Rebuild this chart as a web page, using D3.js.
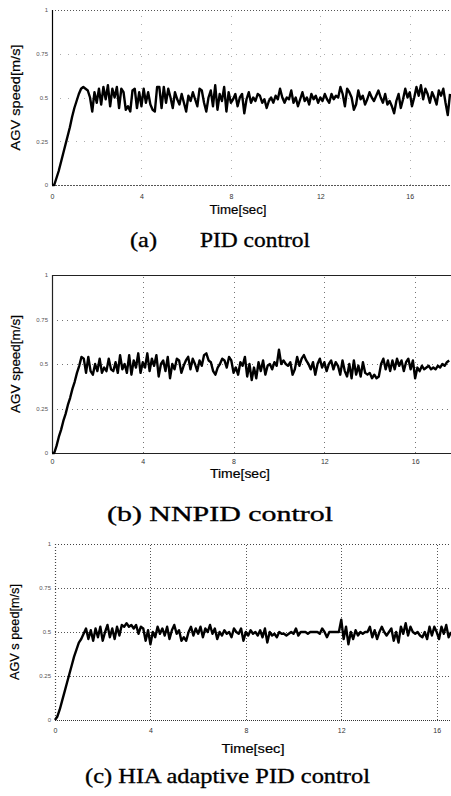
<!DOCTYPE html>
<html><head><meta charset="utf-8">
<script src="https://cdn.jsdelivr.net/npm/d3@7/dist/d3.min.js"></script>
<style>
html,body{margin:0;padding:0;background:#fff;}
svg{display:block;}
</style></head>
<body>
<script>
// ---------------- DATA ----------------
const sampleStep = 0.1; // seconds between samples
const xTickValues = [0, 4, 8, 12, 16];
const xTickLabels = ["0", "4", "8", "12", "16"];
const yTickValues = [0, 0.25, 0.5, 0.75, 1];
const yTickLabels = ["0", "0.25", "0.5", "0.75", "1"];
const yLabels = ["AGV speed[m/s]", "AGV speed[m/s]", "AGV s peed[m/s]"];
const xLabel = "Time[sec]";

const speedPID = [0,0,0.04,0.08,0.13,0.18,0.23,0.28,0.33,0.39,0.44,0.48,0.52,0.55,0.56,0.55,
0.54,0.50,0.42,0.53,0.47,0.55,0.46,0.56,0.49,0.57,0.45,0.55,0.50,0.56,0.44,0.55,0.53,0.43,0.45,0.42,0.54,0.55,0.44,0.53,
0.45,0.55,0.47,0.53,0.46,0.43,0.42,0.56,0.56,0.44,0.56,0.47,0.55,0.50,0.44,0.53,0.49,0.46,0.52,0.47,
0.42,0.51,0.48,0.53,0.49,0.45,0.55,0.54,0.47,0.42,0.50,0.54,0.45,0.57,0.43,0.52,0.48,0.56,0.42,0.53,
0.47,0.49,0.52,0.45,0.50,0.52,0.41,0.49,0.53,0.47,0.50,0.48,0.52,0.51,0.47,0.49,0.44,0.48,0.50,0.47,
0.51,0.49,0.55,0.50,0.47,0.50,0.49,0.54,0.47,0.50,0.45,0.49,0.53,0.48,0.50,0.46,0.52,0.49,0.51,0.47,
0.50,0.48,0.52,0.49,0.47,0.52,0.49,0.51,0.50,0.56,0.52,0.45,0.55,0.53,0.50,0.43,0.46,0.54,0.49,0.51,
0.46,0.49,0.53,0.50,0.48,0.51,0.54,0.50,0.47,0.52,0.46,0.48,0.45,0.41,0.48,0.52,0.44,0.49,0.55,0.50,
0.53,0.45,0.50,0.56,0.51,0.57,0.49,0.55,0.52,0.47,0.53,0.50,0.46,0.54,0.51,0.55,0.47,0.40,0.52];

const speedNNPID = [0,0,0.04,0.09,0.13,0.18,0.22,0.27,0.31,0.36,0.40,0.45,0.49,0.54,0.53,
0.45,0.54,0.46,0.44,0.50,0.46,0.53,0.45,0.48,0.46,0.53,0.47,0.46,0.51,0.45,0.55,0.47,0.50,0.45,0.55,0.44,0.52,0.48,0.56,0.45,
0.51,0.48,0.56,0.46,0.53,0.49,0.55,0.43,0.50,0.52,0.46,0.54,0.42,0.50,0.47,0.53,0.52,0.45,0.49,0.52,
0.54,0.47,0.53,0.50,0.46,0.52,0.49,0.55,0.56,0.52,0.51,0.46,0.44,0.48,0.50,0.53,0.52,0.48,0.54,0.52,
0.45,0.48,0.44,0.51,0.49,0.54,0.43,0.50,0.41,0.48,0.42,0.51,0.46,0.52,0.44,0.49,0.50,0.47,0.51,0.49,
0.58,0.50,0.52,0.50,0.49,0.51,0.44,0.47,0.54,0.49,0.53,0.55,0.52,0.50,0.47,0.51,0.44,0.50,0.53,0.48,
0.51,0.46,0.50,0.52,0.47,0.51,0.49,0.44,0.52,0.46,0.43,0.50,0.42,0.52,0.44,0.49,0.43,0.51,0.45,0.44,
0.45,0.42,0.44,0.42,0.43,0.50,0.53,0.47,0.52,0.46,0.52,0.47,0.53,0.49,0.52,0.46,0.51,0.53,0.47,0.52,
0.42,0.48,0.46,0.49,0.47,0.48,0.49,0.47,0.48,0.47,0.49,0.48,0.50,0.49,0.51,0.52,0.52];

const speedHIA = [0,0.02,0.06,0.11,0.16,0.21,0.26,0.31,0.36,0.40,0.44,0.46,0.49,0.52,
0.46,0.51,0.45,0.52,0.47,0.53,0.45,0.50,0.54,0.47,0.52,0.46,0.53,0.48,0.54,0.53,0.55,0.53,0.54,0.52,0.54,0.49,0.53,0.52,0.45,0.51,
0.43,0.50,0.47,0.53,0.49,0.52,0.48,0.53,0.46,0.51,0.54,0.49,0.51,0.45,0.47,0.45,0.50,0.53,0.48,0.52,
0.49,0.53,0.47,0.52,0.50,0.54,0.49,0.52,0.46,0.50,0.48,0.51,0.49,0.50,0.47,0.52,0.50,0.49,0.52,0.45,
0.50,0.48,0.51,0.49,0.50,0.48,0.51,0.47,0.52,0.44,0.50,0.48,0.49,0.47,0.50,0.49,0.49,0.48,0.49,0.50,
0.49,0.52,0.48,0.50,0.50,0.50,0.49,0.50,0.50,0.50,0.50,0.49,0.52,0.50,0.47,0.50,0.50,0.50,0.50,0.50,
0.57,0.46,0.53,0.43,0.50,0.46,0.51,0.48,0.50,0.49,0.50,0.50,0.53,0.47,0.51,0.46,0.50,0.53,0.50,0.48,
0.50,0.52,0.45,0.50,0.44,0.53,0.49,0.55,0.48,0.53,0.50,0.49,0.50,0.48,0.47,0.50,0.46,0.53,0.48,0.53,
0.50,0.46,0.53,0.49,0.54,0.47,0.50];

const seriesList = [speedPID, speedNNPID, speedHIA];

// ---------------- LAYOUT ----------------
const panels = [
  {left:52, right:450, top:10, bottom:185, xMax:17.8, tickY:198, xlabY:214, ylabX:16, ylabLen:106, xlabX:238, xlabLen:57,
   capY:247, capParts:[{t:"(a)",x:130,len:27},{t:"PID control",x:200,len:110}],
   grid:{col:"#999", dash:"1,7", op:0.8}, topStyle:{col:"#555",dash:"1,2"}, leftStyle:{col:"#000",dash:null}, bottomStyle:{col:"#555",dash:"2,1"}},
  {left:52, right:451, top:275, bottom:453, xMax:17.58, tickY:463, xlabY:478, ylabX:16, ylabLen:98, xlabX:240, xlabLen:60,
   capY:521, capParts:[{t:"(b) NNPID control",x:107,len:226}],
   grid:{col:"#666", dash:"1,4", op:0.9}, topStyle:{col:"#222",dash:null}, leftStyle:{col:"#222",dash:null}, bottomStyle:{col:"#222",dash:null}},
  {left:55, right:451, top:544, bottom:720, xMax:16.6, tickY:732, xlabY:753, ylabX:15, ylabLen:96, xlabX:253, xlabLen:63,
   capY:783, capParts:[{t:"(c) HIA adaptive PID control",x:85,len:285}],
   grid:{col:"#444", dash:"1,2", op:0.9}, topStyle:{col:"#444",dash:"1,2"}, leftStyle:{col:"#444",dash:"1,2"}, bottomStyle:{col:"#333",dash:"1,1"}}
];

const svg = d3.select("body").append("svg").attr("width",451).attr("height",796);

panels.forEach((p, i) => {
  const data = seriesList[i];
  const x = d3.scaleLinear().domain([0, p.xMax]).range([p.left, p.right]);
  const y = d3.scaleLinear().domain([0, 1]).range([p.bottom, p.top]);
  const g = svg.append("g");

  // grid
  const gg = g.append("g").attr("stroke", p.grid.col).attr("stroke-dasharray", p.grid.dash).attr("opacity", p.grid.op).attr("stroke-width",1);
  yTickValues.filter(v => v > 0 && v < 1).forEach(v => {
    gg.append("line").attr("x1", x(0)).attr("x2", p.right).attr("y1", Math.round(y(v))+0.5).attr("y2", Math.round(y(v))+0.5);
  });
  xTickValues.filter(v => v > 0).forEach(v => {
    gg.append("line").attr("x1", Math.round(x(v))+0.5).attr("x2", Math.round(x(v))+0.5).attr("y1", y(0)).attr("y2", y(1));
  });

  // frame
  const line = (x1,y1,x2,y2,st,w) => g.append("line").attr("x1",x1).attr("y1",y1).attr("x2",x2).attr("y2",y2)
      .attr("stroke", st.col).attr("stroke-width", w).attr("stroke-dasharray", st.dash);
  line(p.left, Math.round(y(1))+0.5, p.right, Math.round(y(1))+0.5, p.topStyle, 1);
  line(p.left+0.5, y(1), p.left+0.5, y(0), p.leftStyle, 1.2);
  line(p.left, Math.round(y(0))+0.5, p.right, Math.round(y(0))+0.5, p.bottomStyle, 1.2);

  // axes (tick labels only)
  const xAxis = d3.axisBottom(x).tickValues(xTickValues).tickFormat((d,k) => xTickLabels[k]).tickSize(0);
  const xa = g.append("g").attr("transform", `translate(0,${p.tickY-4})`).call(xAxis);
  xa.select(".domain").remove();
  xa.selectAll("text").attr("font-family","Liberation Sans, Arial, sans-serif").attr("font-size",7).attr("fill","#333").attr("dy","0.3em");
  const yAxis = d3.axisLeft(y).tickValues(yTickValues).tickFormat((d,k) => yTickLabels[k]).tickSize(0).tickPadding(4);
  const ya = g.append("g").attr("transform", `translate(${p.left},0)`).call(yAxis);
  ya.select(".domain").remove();
  ya.selectAll("text").attr("font-family","Liberation Sans, Arial, sans-serif").attr("font-size",6).attr("fill","#555");

  // series line
  const pts = data.map((v, k) => [k * sampleStep, v]).filter(d => d[0] <= p.xMax + 1e-9);
  g.append("path").datum(pts)
    .attr("d", d3.line().x(d => x(d[0])).y(d => y(d[1])))
    .attr("fill","none").attr("stroke","#000").attr("stroke-width",2.4).attr("stroke-linejoin","round");

  // y label
  const cy = (p.top + p.bottom) / 2;
  g.append("text").attr("transform", `translate(${p.ylabX},${cy}) rotate(-90)`)
    .attr("text-anchor","middle").attr("dy","0.35em")
    .attr("font-family","Liberation Sans, Arial, sans-serif").attr("font-size",12.5)
    .attr("stroke","#000").attr("stroke-width",0.2)
    .attr("textLength", p.ylabLen).attr("lengthAdjust","spacingAndGlyphs")
    .text(yLabels[i]);

  // x label
  g.append("text").attr("x", p.xlabX).attr("y", p.xlabY).attr("text-anchor","middle")
    .attr("font-family","Liberation Sans, Arial, sans-serif").attr("font-size",13)
    .attr("stroke","#000").attr("stroke-width",0.2)
    .attr("textLength", p.xlabLen).attr("lengthAdjust","spacingAndGlyphs")
    .text(xLabel);

  // caption
  p.capParts.forEach(c => {
    svg.append("text").attr("x", c.x).attr("y", p.capY)
      .attr("font-family","Liberation Serif, Times New Roman, serif").attr("font-size",22)
      .attr("stroke","#000").attr("stroke-width",0.35)
      .attr("textLength", c.len).attr("lengthAdjust","spacingAndGlyphs")
      .text(c.t);
  });
});
</script>
</body></html>
